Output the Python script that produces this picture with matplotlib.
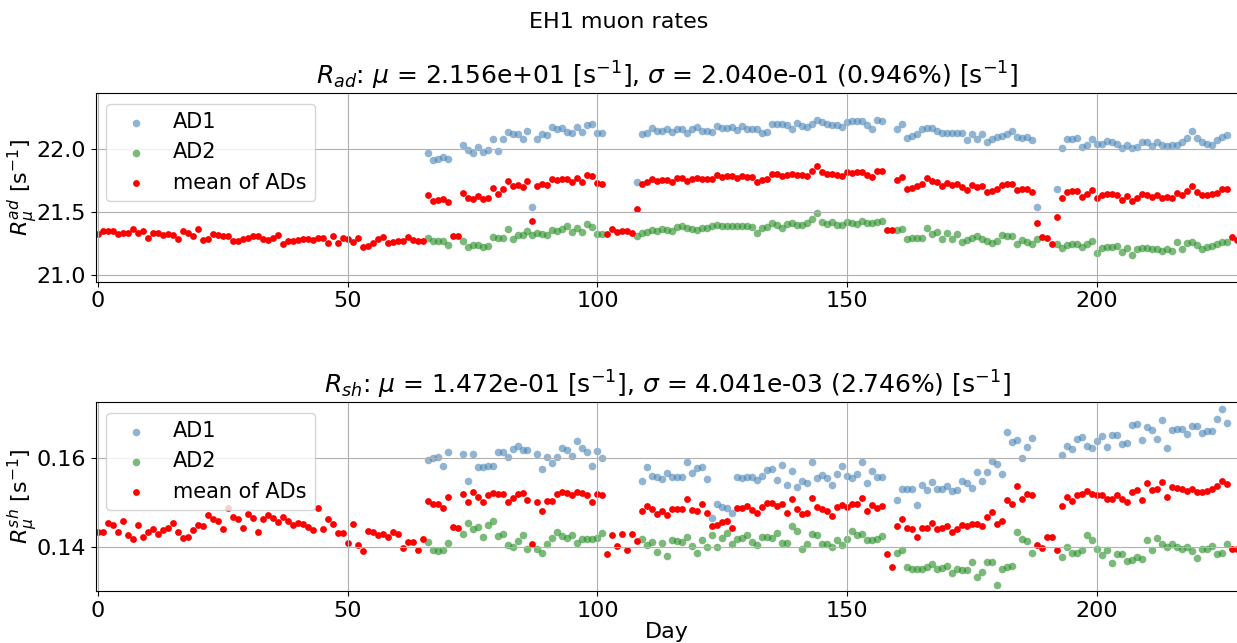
import numpy as np
import matplotlib
matplotlib.use('Agg')
import matplotlib.pyplot as plt

nan = np.nan

# day index 0..228
days = np.arange(229)

# ---- AD muon rates [s^-1] ----
ad_mean = [
    21.33, 21.35, 21.35, 21.35, 21.33, 21.34, 21.34, 21.37, 21.34, 21.35,
    21.30, 21.34, 21.34, 21.32, 21.33, 21.32, 21.29, 21.35, 21.34, 21.31,
    21.37, 21.28, 21.29, 21.33, 21.32, 21.31, 21.31, 21.27, 21.27, 21.29,
    21.30, 21.31, 21.31, 21.29, 21.28, 21.30, 21.32, 21.25, 21.27, 21.27,
    21.28, 21.29, 21.29, 21.28, 21.30, 21.30, 21.26, 21.315, 21.257, 21.299,
    21.286, 21.267, 21.294, 21.222, 21.236, 21.257, 21.291, 21.307, 21.257, 21.262,
    21.275, 21.275, 21.307, 21.283, 21.275, 21.275, 21.635, 21.592, 21.595, 21.603,
    21.582, 21.315, 21.315, 21.653, 21.611, 21.608, 21.629, 21.603, 21.616, 21.695,
    21.645, 21.688, 21.751, 21.706, 21.719, 21.703, 21.751, 21.431, 21.711, 21.727,
    21.719, 21.764, 21.754, 21.762, 21.764, 21.740, 21.775, 21.738, 21.793, 21.791,
    21.730, 21.727, 21.328, 21.365, 21.346, 21.352, 21.352, 21.338, 21.526, 21.725,
    21.738, 21.764, 21.748, 21.754, 21.754, 21.740, 21.775, 21.775, 21.751, 21.762,
    21.770, 21.762, 21.764, 21.764, 21.793, 21.780, 21.785, 21.785, 21.770, 21.791,
    21.780, 21.778, 21.743, 21.754, 21.762, 21.801, 21.801, 21.788, 21.796, 21.801,
    21.793, 21.796, 21.788, 21.828, 21.865, 21.820, 21.804, 21.807, 21.796, 21.785,
    21.817, 21.815, 21.817, 21.822, 21.799, 21.783, 21.828, 21.828, 21.357, 21.357,
    21.756, 21.783, 21.688, 21.695, 21.709, 21.725, 21.775, 21.748, 21.743, 21.711,
    21.733, 21.717, 21.727, 21.698, 21.677, 21.717, 21.703, 21.706, 21.664, 21.669,
    21.682, 21.717, 21.722, 21.727, 21.677, 21.682, 21.682, 21.661, 21.418, 21.307,
    21.293, 21.248, 21.465, 21.616, 21.664, 21.669, 21.669, 21.619, 21.643, 21.674,
    21.611, 21.637, 21.645, 21.645, 21.637, 21.600, 21.629, 21.587, 21.616, 21.643,
    21.637, 21.619, 21.635, 21.616, 21.619, 21.611, 21.651, 21.635, 21.669, 21.706,
    21.664, 21.635, 21.635, 21.643, 21.656, 21.682, 21.688, 21.304, 21.283,
]

ad_ad1 = [nan] * 66 + [
    21.971, 21.912, 21.926, 21.942,
    21.920, nan, nan, 22.034, 21.992, 21.971, 22.016, 21.979, 21.997, 22.082,
    21.989, 22.082, 22.140, 22.121, 22.119, 22.082, 22.148, 21.545, 22.082, 22.121,
    22.113, 22.174, 22.158, 22.166, 22.140, 22.127, 22.177, 22.137, 22.190, 22.203,
    22.132, 22.132, nan, nan, nan, nan, nan, nan, 21.743, 22.119,
    22.132, 22.169, 22.145, 22.145, 22.158, 22.137, 22.164, 22.164, 22.129, 22.164,
    22.177, 22.145, 22.145, 22.140, 22.185, 22.172, 22.172, 22.177, 22.151, 22.185,
    22.164, 22.158, 22.158, 22.132, 22.137, 22.198, 22.203, 22.198, 22.190, 22.164,
    22.211, 22.188, 22.174, 22.201, 22.232, 22.219, 22.201, 22.190, 22.190, 22.177,
    22.219, 22.222, 22.225, 22.222, 22.190, 22.158, 22.232, 22.227, nan, nan,
    22.161, 22.203, 22.087, 22.103, 22.121, 22.158, 22.172, 22.172, 22.148, 22.132,
    22.129, 22.129, 22.127, 22.127, 22.071, 22.124, 22.084, 22.119, 22.061, 22.082,
    22.095, 22.108, 22.119, 22.148, 22.095, 22.090, 22.098, 22.074, 21.545, nan,
    nan, nan, 21.688, 22.013, 22.082, 22.084, 22.090, 22.018, 22.037, 22.084,
    22.042, 22.045, 22.068, 22.055, 22.042, 22.010, 22.034, 22.008, 22.021, 22.061,
    22.055, 22.026, 22.055, 22.034, 22.029, 22.031, 22.034, 22.061, 22.087, 22.143,
    22.092, 22.055, 22.045, 22.031, 22.074, 22.098, 22.116, nan, nan,
]

ad_ad2 = [nan] * 66 + [
    21.299, 21.270, 21.270, 21.270,
    21.243, nan, nan, 21.270, 21.225, 21.243, 21.243, 21.225, 21.233, 21.307,
    21.299, 21.299, 21.365, 21.291, 21.320, 21.320, 21.352, 21.320, 21.338, 21.330,
    21.320, 21.357, 21.354, 21.365, 21.394, 21.346, 21.378, 21.341, 21.405, 21.381,
    21.330, 21.325, nan, nan, nan, nan, nan, nan, 21.315, 21.333,
    21.344, 21.362, 21.352, 21.370, 21.360, 21.352, 21.386, 21.391, 21.378, 21.367,
    21.362, 21.378, 21.378, 21.391, 21.402, 21.394, 21.391, 21.391, 21.391, 21.391,
    21.391, 21.381, 21.336, 21.378, 21.381, 21.412, 21.399, 21.378, 21.405, 21.415,
    21.399, 21.397, 21.418, 21.447, 21.497, 21.426, 21.405, 21.426, 21.399, 21.397,
    21.420, 21.418, 21.410, 21.431, 21.418, 21.418, 21.423, 21.434, nan, nan,
    21.360, 21.365, 21.291, 21.293, 21.296, 21.293, 21.373, 21.328, 21.344, 21.291,
    21.333, 21.291, 21.328, 21.267, 21.283, 21.296, 21.312, 21.291, 21.270, 21.256,
    21.275, 21.323, 21.315, 21.315, 21.251, 21.280, 21.267, 21.246, 21.288, nan,
    nan, nan, 21.251, 21.219, 21.238, 21.251, 21.251, 21.222, 21.248, 21.270,
    21.180, 21.219, 21.222, 21.227, 21.233, 21.188, 21.219, 21.164, 21.211, 21.217,
    21.219, 21.209, 21.209, 21.195, 21.206, 21.195, 21.264, 21.206, 21.254, 21.267,
    21.240, 21.206, 21.225, 21.235, 21.246, 21.267, 21.264, nan, nan,
]

# ---- shower muon rates [s^-1] ----
sh_mean = [
    0.14340, 0.14333, 0.14529, 0.14491, 0.14340, 0.14582, 0.14272, 0.14174, 0.14491, 0.14212,
    0.14340, 0.14393, 0.14280, 0.14386, 0.14416, 0.14536, 0.14340, 0.14205, 0.14212, 0.14386,
    0.14491, 0.14476, 0.14725, 0.14627, 0.14589, 0.14401, 0.14883, 0.14672, 0.14619, 0.14431,
    0.14748, 0.14642, 0.14333, 0.14619, 0.14710, 0.14642, 0.14567, 0.14680, 0.14589, 0.14499,
    0.14536, 0.14521, 0.14446, 0.14386, 0.14883, 0.14401, 0.14619, 0.14506, 0.14303, 0.14303,
    0.14091, 0.14514, 0.14039, 0.13895, 0.14355, 0.14325, 0.14257, 0.14287, 0.14227, 0.14325,
    0.14295, 0.13963, 0.14099, 0.14099, 0.13925, 0.14167, 0.15034, 0.14974, 0.14974, 0.14883,
    0.15117, 0.14438, 0.14431, 0.15193, 0.15004, 0.15245, 0.15132, 0.15012, 0.15162, 0.15208,
    0.15200, 0.15200, 0.15019, 0.15094, 0.15193, 0.15215, 0.15064, 0.14061, 0.15012, 0.14815,
    0.15034, 0.15034, 0.15185, 0.15245, 0.15208, 0.15170, 0.15230, 0.15208, 0.15177, 0.15004,
    0.15185, 0.15162, 0.13835, 0.14257, 0.14024, 0.14280, 0.13918, 0.14287, 0.14137, 0.14815,
    0.14921, 0.14853, 0.14740, 0.14815, 0.14725, 0.14861, 0.14853, 0.14853, 0.15072, 0.14830,
    0.14815, 0.14966, 0.14755, 0.14469, 0.14491, 0.14567, 0.14589, 0.14416, 0.14868, 0.14883,
    0.14921, 0.14830, 0.14770, 0.14906, 0.14981, 0.14981, 0.14921, 0.14966, 0.14755, 0.15087,
    0.14846, 0.14732, 0.14755, 0.15102, 0.14906, 0.14853, 0.14815, 0.14702, 0.14906, 0.14936,
    0.14891, 0.14959, 0.14966, 0.15109, 0.14800, 0.14936, 0.14876, 0.14928, 0.13827, 0.13533,
    0.14461, 0.14619, 0.14431, 0.14393, 0.14220, 0.14431, 0.14431, 0.14544, 0.14393, 0.14416,
    0.14476, 0.14340, 0.14401, 0.14491, 0.14476, 0.14506, 0.14521, 0.14468, 0.14672, 0.14785,
    0.14506, 0.14582, 0.15057, 0.14974, 0.15381, 0.15087, 0.15193, 0.15162, 0.14039, 0.13963,
    0.14212, 0.14212, 0.13925, 0.14921, 0.15132, 0.15034, 0.15170, 0.15193, 0.15268, 0.15193,
    0.15177, 0.15170, 0.15087, 0.15087, 0.15177, 0.15072, 0.15019, 0.15230, 0.15275, 0.15064,
    0.15434, 0.15275, 0.15306, 0.15456, 0.15117, 0.15343, 0.15321, 0.15306, 0.15268, 0.15313,
    0.15238, 0.15245, 0.15268, 0.15298, 0.15366, 0.15487, 0.15426, 0.13941, 0.13941,
]

sh_ad1 = [nan] * 66 + [
    0.15969, 0.16014, 0.16022, 0.15833,
    0.16143, nan, nan, 0.16090, 0.15479, 0.16097, 0.15811, 0.15796, 0.15826, 0.15826,
    0.16135, 0.16135, 0.16022, 0.16211, 0.16278, 0.16188, 0.16188, nan, 0.16097, 0.15766,
    0.16022, 0.15894, 0.16037, 0.16241, 0.16195, 0.16060, 0.16391, 0.16233, 0.16150, 0.15818,
    0.16173, 0.16007, nan, nan, nan, nan, nan, nan, nan, 0.15479,
    0.15796, 0.15607, 0.15585, 0.15539, 0.15660, 0.15570, 0.15570, 0.15585, 0.15916, 0.15660,
    0.15788, 0.15796, 0.15539, 0.14642, 0.14966, 0.14906, 0.14868, 0.14770, 0.15585, 0.15547,
    0.15570, 0.15570, 0.15509, 0.15600, 0.15728, 0.15758, 0.15509, 0.15856, 0.15389, 0.15705,
    0.15351, 0.15494, 0.15441, 0.15916, 0.15547, 0.15622, 0.15562, 0.15404, 0.15652, 0.15833,
    0.15607, 0.15562, 0.15652, 0.15924, 0.15449, 0.15713, 0.15585, 0.15585, nan, nan,
    0.15049, 0.15313, 0.15298, 0.15298, 0.14951, 0.15389, 0.15283, 0.15464, 0.15306, 0.15306,
    0.15381, 0.15268, 0.15290, 0.15494, 0.15449, 0.15336, 0.15698, 0.15494, 0.15683, 0.15931,
    0.15879, 0.15652, 0.16587, 0.16361, 0.16414, 0.16000, 0.16248, 0.16452, nan, nan,
    nan, nan, nan, 0.16067, 0.16278, 0.16218, 0.16444, 0.16474, 0.16286, 0.16233,
    0.16399, 0.16505, 0.16248, 0.16527, 0.16520, 0.16316, 0.16354, 0.16761, 0.16784, 0.16407,
    0.16716, 0.16640, 0.16429, 0.16859, 0.16233, 0.16633, 0.16655, 0.16663, 0.16550, 0.16731,
    0.16738, 0.16565, 0.16610, 0.16618, 0.16897, 0.17108, 0.16791, nan, nan,
]

sh_ad2 = [nan] * 66 + [
    0.14099, 0.13918, 0.13903, 0.13933,
    0.14084, nan, nan, 0.14280, 0.14529, 0.14393, 0.14453, 0.14220, 0.14491, 0.14589,
    0.14242, 0.14280, 0.14031, 0.13986, 0.14122, 0.14257, 0.13941, nan, 0.13941, 0.13865,
    0.14061, 0.14189, 0.14340, 0.14242, 0.14205, 0.14272, 0.14076, 0.14182, 0.14182, 0.14182,
    0.14197, 0.14303, nan, nan, nan, nan, nan, nan, nan, 0.14167,
    0.14039, 0.14099, 0.13888, 0.14091, 0.13797, 0.14152, 0.14137, 0.14114, 0.14227, 0.14024,
    0.13850, 0.14144, 0.13986, 0.14265, 0.13986, 0.14205, 0.14310, 0.14069, 0.14182, 0.14189,
    0.14265, 0.14114, 0.14039, 0.14220, 0.14220, 0.14205, 0.14318, 0.14091, 0.14091, 0.14476,
    0.14348, 0.13956, 0.14061, 0.14287, 0.14265, 0.14061, 0.14061, 0.14001, 0.14144, 0.14031,
    0.14174, 0.14355, 0.14272, 0.14280, 0.14152, 0.14144, 0.14174, 0.14250, nan, nan,
    0.13865, 0.13918, 0.13548, 0.13488, 0.13488, 0.13488, 0.13548, 0.13609, 0.13496, 0.13526,
    0.13556, 0.13405, 0.13496, 0.13481, 0.13481, 0.13662, 0.13322, 0.13428, 0.13662, 0.13662,
    0.13141, 0.13503, 0.13533, 0.13564, 0.14340, 0.14182, 0.14137, 0.13850, nan, nan,
    nan, nan, nan, 0.13760, 0.13986, 0.13865, 0.13865, 0.13918, 0.14265, 0.14159,
    0.13948, 0.13820, 0.13925, 0.13639, 0.13827, 0.13835, 0.13684, 0.13707, 0.13775, 0.13730,
    0.14159, 0.13925, 0.14189, 0.14069, 0.14001, 0.14061, 0.13994, 0.13941, 0.13986, 0.13910,
    0.13745, 0.13941, 0.13941, 0.14016, 0.13843, 0.13850, 0.14061, nan, nan,
]

ad_title = (r'$R_{ad}$: $\mu$ = 2.156e+01 [s$^{-1}$], '
            r'$\sigma$ = 2.040e-01 (0.946%) [s$^{-1}$]')
sh_title = (r'$R_{sh}$: $\mu$ = 1.472e-01 [s$^{-1}$], '
            r'$\sigma$ = 4.041e-03 (2.746%) [s$^{-1}$]')

C_AD1 = 'steelblue'
C_AD2 = 'forestgreen'
C_MEAN = 'red'


def draw(ax, ad1, ad2, mean, title, ylabel, ylim):
    ax.scatter(days, ad1, s=30, color=C_AD1, alpha=0.6, linewidths=0, label='AD1')
    ax.scatter(days, ad2, s=30, color=C_AD2, alpha=0.6, linewidths=0, label='AD2')
    ax.scatter(days, mean, s=24, color=C_MEAN, linewidths=0, label='mean of ADs')
    ax.set_title(title, fontsize=18)
    ax.set_ylabel(ylabel, fontsize=16, labelpad=-2)
    ax.set_xlim(-0.42, 228.3)
    ax.set_ylim(*ylim)
    ax.set_xticks([0, 50, 100, 150, 200])
    ax.tick_params(labelsize=16)
    ax.grid(True)
    ax.legend(loc='upper left', fontsize=15)


def main():
    assert len(ad_mean) == len(ad_ad1) == len(ad_ad2) == len(days)
    assert len(sh_mean) == len(sh_ad1) == len(sh_ad2) == len(days)

    fig = plt.figure(figsize=(12.37, 6.43), dpi=100)
    W, H = 1237.0, 643.0
    ax1 = fig.add_axes([96 / W, 1 - 281.7 / H, 1142 / W, 188.4 / H])
    ax2 = fig.add_axes([96 / W, 1 - 591.0 / H, 1142 / W, 188.7 / H])

    draw(ax1, ad_ad1, ad_ad2, ad_mean, ad_title,
         r'$R_\mu^{ad}$ [s$^{-1}$]', (20.95, 22.445))
    ax1.set_yticks([21.0, 21.5, 22.0])
    draw(ax2, sh_ad1, sh_ad2, sh_mean, sh_title,
         r'$R_\mu^{sh}$ [s$^{-1}$]', (0.13, 0.1727))
    ax2.set_yticks([0.14, 0.16])
    ax2.set_xlabel('Day', fontsize=16, labelpad=1)

    fig.text(0.5, 1 - 22 / H, 'EH1 muon rates', ha='center', va='center', fontsize=16)
    fig.savefig('out.png', dpi=100)


if __name__ == '__main__':
    main()
